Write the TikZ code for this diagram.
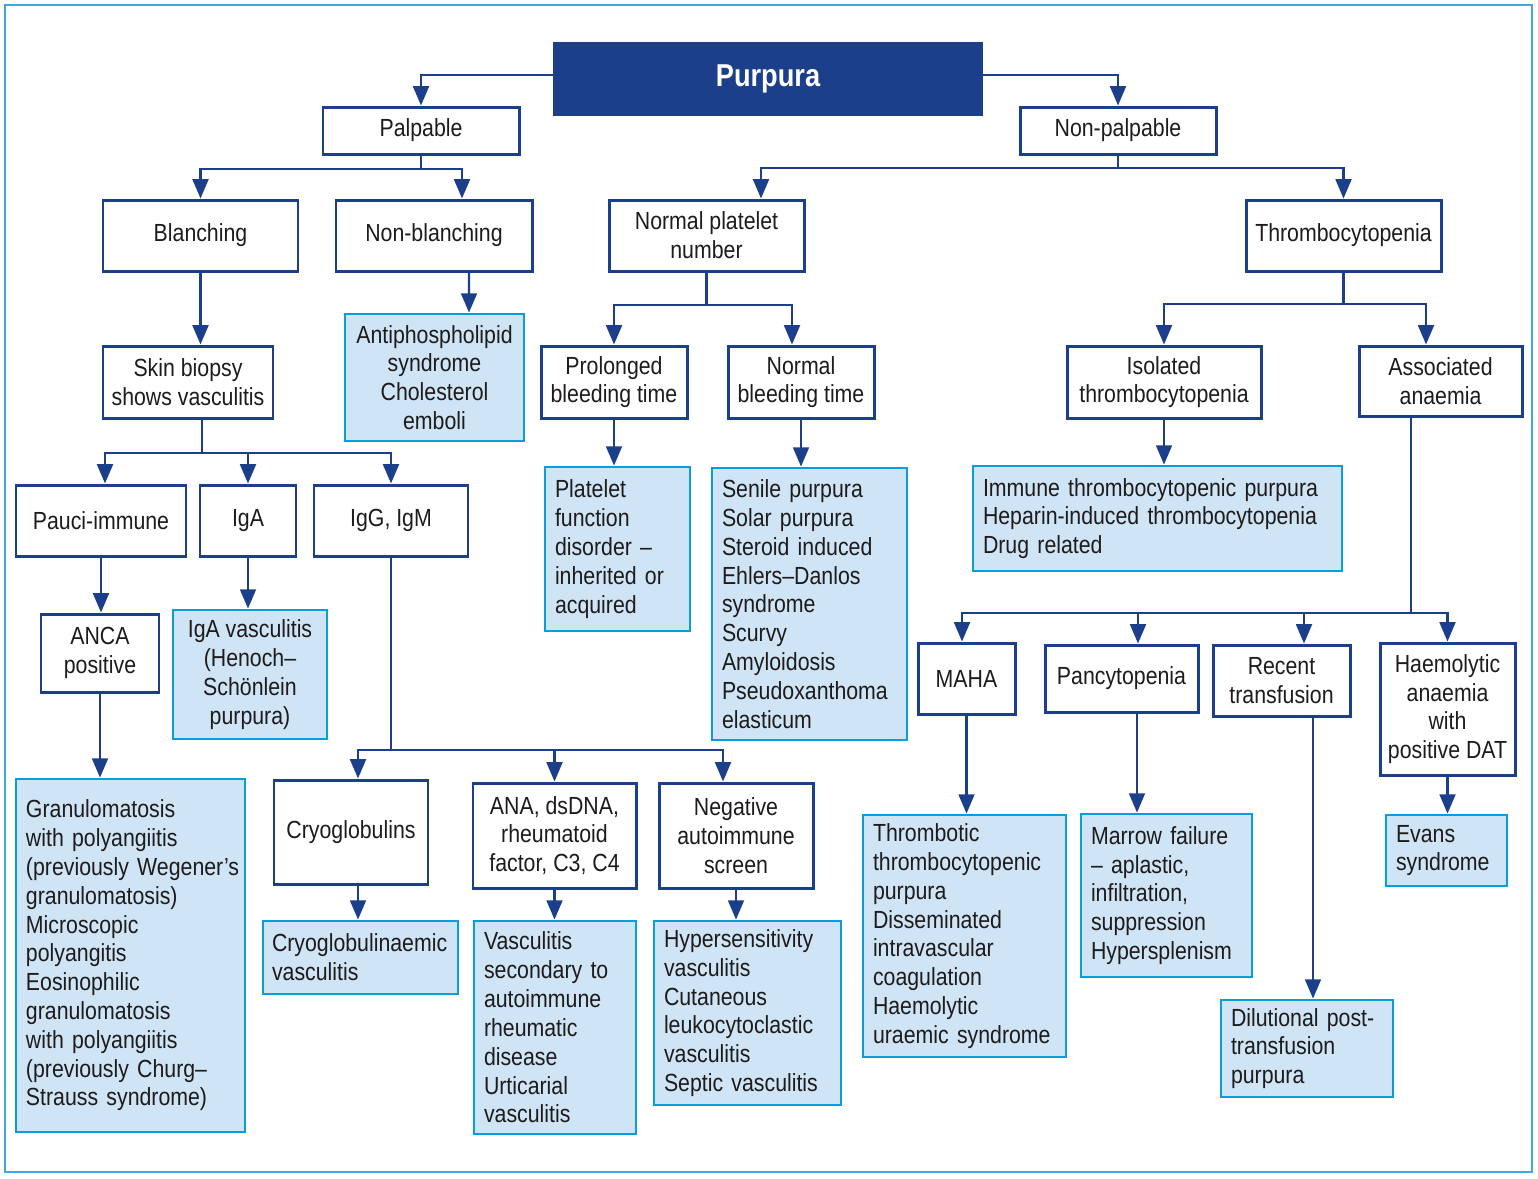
\documentclass[tikz,border=0pt]{standalone}
\usepackage{fontspec}
\setmainfont{Liberation Sans}[FakeStretch=0.86]
\usetikzlibrary{arrows.meta, positioning, calc}
\definecolor{navy}{RGB}{27,63,139}
\definecolor{sky}{RGB}{10,157,219}
\definecolor{pale}{RGB}{207,228,244}
\definecolor{ink}{RGB}{30,27,28}
\definecolor{rim}{RGB}{60,170,225}
\hyphenpenalty=10000
\exhyphenpenalty=10000

\tikzset{
  every node/.style={font=\fontsize{14.1pt}{16.4pt}\selectfont, text=ink, inner sep=0pt},
  box/.style={draw=navy, line width=1.7pt, fill=white, align=center},
  leaf/.style={draw=sky, line width=1.6pt, fill=pale, align=center},
  wh/.style 2 args={minimum width=#1*0.02cm, minimum height=#2*0.02cm},
  lt/.style={text width=#1*0.02cm, align=left},
  link/.style={draw=navy, line width=1.4pt},
  arr/.style={link, -{Triangle[length=11pt, width=9pt]}},
}

\begin{document}
\begin{tikzpicture}[x=0.02cm, y=-0.02cm]
    \useasboundingbox (0,0) rectangle (1538,1178);
    \draw[rim, line width=1pt] (5,5) rectangle (1532,1172);

    % top
    \node[fill=navy, wh={430}{74}, text=white, font=\fontsize{18pt}{20pt}\selectfont\bfseries] (purp) at (768,79) {Purpura};
    \node[box, wh={196}{47}] (palp) at (421,130.5) {Palpable};
    \node[box, wh={196}{47}] (npalp) at (1118,130.5) {Non-palpable};

    % palpable branch
    \node[box, wh={195}{71}] (blan) at (200.5,235.5) {Blanching};
    \node[box, wh={196}{71}] (nonb) at (434,235.5) {Non-blanching};
    \node[leaf, wh={179}{127}] (anti) at (434.5,377.5) {Antiphospholipid\\syndrome\\Cholesterol\\emboli};
    \node[box, wh={170}{72}] (skin) at (188,382) {Skin biopsy\\shows vasculitis};
    \node[box, wh={170}{71}] (pauci) at (101,520.5) {Pauci-immune};
    \node[box, wh={96}{71}] (iga) at (248,520.5) {IgA};
    \node[box, wh={154}{71}] (igg) at (391,520.5) {IgG, IgM};
    \node[box, wh={118}{78}] (anca) at (100,653) {ANCA\\positive};
    \node[leaf, wh={154}{129}] (igav) at (250,674.5) {IgA vasculitis\\(Henoch–\\Schönlein\\purpura)};
    \node[leaf, wh={229}{353}, lt=209] (gran) at (130.5,955.5) {Granulomatosis\\with polyangiitis\\(previously~Wegener’s\\granulomatosis)\\Microscopic\\polyangitis\\Eosinophilic\\granulomatosis\\with polyangiitis\\(previously~Churg–\\Strauss syndrome)};
    \node[box, wh={154}{104}] (cryo) at (351,832) {Cryoglobulins};
    \node[box, wh={163}{105}] (ana) at (554.5,835.5) {ANA, dsDNA,\\rheumatoid\\factor, C3, C4};
    \node[box, wh={154}{105}] (neg) at (736,835.5) {Negative\\autoimmune\\screen};
    \node[leaf, wh={195}{73}, lt=177] (cryv) at (360.5,957.5) {Cryoglobulinaemic\\vasculitis};
    \node[leaf, wh={162}{213}, lt=142] (vsec) at (555,1027.5) {Vasculitis\\secondary to\\autoimmune\\rheumatic\\disease\\Urticarial\\vasculitis};
    \node[leaf, wh={187}{184}, lt=167] (hyp) at (747.5,1013) {Hypersensitivity\\vasculitis\\Cutaneous\\leukocytoclastic\\vasculitis\\Septic vasculitis};

    % non-palpable branch
    \node[box, wh={195}{71}] (norm) at (706.5,235.5) {Normal platelet\\number};
    \node[box, wh={195}{71}] (thr) at (1343.5,235.5) {Thrombocytopenia};
    \node[box, wh={146}{72}] (prol) at (614,382) {Prolonged\\bleeding time};
    \node[box, wh={146}{72}] (nbt) at (801,382) {Normal\\bleeding time};
    \node[leaf, wh={145}{164}, lt=125] (plat) at (617.5,549) {Platelet\\function\\disorder –\\inherited or\\acquired};
    \node[leaf, wh={195}{272}, lt=175] (sen) at (809.5,604) {Senile purpura\\Solar purpura\\Steroid induced\\Ehlers–Danlos\\syndrome\\Scurvy\\Amyloidosis\\Pseudoxanthoma\\elasticum};
    \node[box, wh={194}{72}] (iso) at (1164,382) {Isolated\\thrombocytopenia};
    \node[box, wh={163}{70}] (assoc) at (1440.5,381) {Associated\\anaemia};
    \node[leaf, wh={369}{105}, lt=349] (imm) at (1157.5,518.5) {Immune thrombocytopenic purpura\\Heparin-induced thrombocytopenia\\Drug related};
    \node[box, wh={97}{71}] (maha) at (966.5,678.5) {MAHA};
    \node[box, wh={153}{67}] (pan) at (1121.5,678.5) {Pancytopenia};
    \node[box, wh={137}{71}] (rec) at (1281.5,680.5) {Recent\\transfusion};
    \node[box, wh={135}{132}] (hae) at (1447.5,709) {Haemolytic\\anaemia\\with\\positive DAT};
    \node[leaf, wh={203}{242}, lt=183] (thtp) at (964.5,936) {Thrombotic\\thrombocytopenic\\purpura\\Disseminated\\intravascular\\coagulation\\Haemolytic\\uraemic syndrome};
    \node[leaf, wh={171}{163}, lt=151] (mar) at (1166.5,895.5) {Marrow failure\\– aplastic,\\infiltration,\\suppression\\Hypersplenism};
    \node[leaf, wh={172}{97}, lt=152] (dil) at (1307,1048.5) {Dilutional post-\\transfusion\\purpura};
    \node[leaf, wh={121}{71}, lt=101] (evans) at (1446.5,850.5) {Evans\\syndrome};

    % junctions
    \coordinate (j1) at (421,169);
    \coordinate (j2) at (202,453);
    \coordinate (j3) at (391,750);
    \coordinate (j4) at (1118,168);
    \coordinate (j5) at (706.5,305);
    \coordinate (j6) at (1343.5,304);
    \coordinate (j7) at (1411,613);

    \draw[arr] ($(purp.west)+(0,-4)$) -| (palp.north);
    \draw[arr] ($(purp.east)+(0,-4)$) -| (npalp.north);
    \draw[link] (palp.south) -- (j1);
    \draw[arr] (j1) -| (blan.north);
    \draw[arr] (j1) -| ($(nonb.north)+(28,0)$);
    \draw[arr] ($(nonb.south)+(35,0)$) -- ($(anti.north)+(34.5,0)$);
    \draw[arr] (blan.south) -- (blan.south |- skin.north);
    \draw[link] ($(skin.south)+(14,0)$) -- (j2);
    \draw[arr] (j2) -| ($(pauci.north)+(4,0)$);
    \draw[arr] (j2) -| (iga.north);
    \draw[arr] (j2) -| (igg.north);
    \draw[arr] (pauci.south) -- (pauci.south |- anca.north);
    \draw[arr] (anca.south) -- (anca.south |- gran.north);
    \draw[arr] (iga.south) -- (iga.south |- igav.north);
    \draw[link] (igg.south) -- (j3);
    \draw[arr] (j3) -| ($(cryo.north)+(7,0)$);
    \draw[arr] (j3) -| (ana.north);
    \draw[arr] (j3) -| ($(neg.north)+(-13,0)$);
    \draw[arr] ($(cryo.south)+(7,0)$) -- ($(cryo.south |- cryv.north)+(7,0)$);
    \draw[arr] (ana.south) -- (ana.south |- vsec.north);
    \draw[arr] (neg.south) -- (neg.south |- hyp.north);

    \draw[link] (npalp.south) -- (j4);
    \draw[arr] (j4) -| ($(norm.north)+(54.5,0)$);
    \draw[arr] (j4) -| (thr.north);
    \draw[link] (norm.south) -- (j5);
    \draw[arr] (j5) -| (prol.north);
    \draw[arr] (j5) -| ($(nbt.north)+(-9,0)$);
    \draw[arr] (prol.south) -- (prol.south |- plat.north);
    \draw[arr] (nbt.south) -- (nbt.south |- sen.north);
    \draw[link] (thr.south) -- (j6);
    \draw[arr] (j6) -| (iso.north);
    \draw[arr] (j6) -| ($(assoc.north)+(-14.5,0)$);
    \draw[arr] (iso.south) -- (iso.south |- imm.north);
    \draw[link] ($(assoc.south)+(-29.5,0)$) -- (j7);
    \draw[arr] (j7) -| ($(maha.north)+(-4.5,0)$);
    \draw[arr] (j7) -| ($(pan.north)+(16.5,0)$);
    \draw[arr] (j7) -| ($(rec.north)+(22.5,0)$);
    \draw[arr] (j7) -| (hae.north);
    \draw[arr] (maha.south) -- (maha.south |- thtp.north);
    \draw[arr] ($(pan.south)+(15.5,0)$) -- ($(pan.south |- mar.north)+(15.5,0)$);
    \draw[arr] ($(rec.south)+(31.5,0)$) -- ($(rec.south |- dil.north)+(31.5,0)$);
    \draw[arr] (hae.south) -- (hae.south |- evans.north);
\end{tikzpicture}
\end{document}
